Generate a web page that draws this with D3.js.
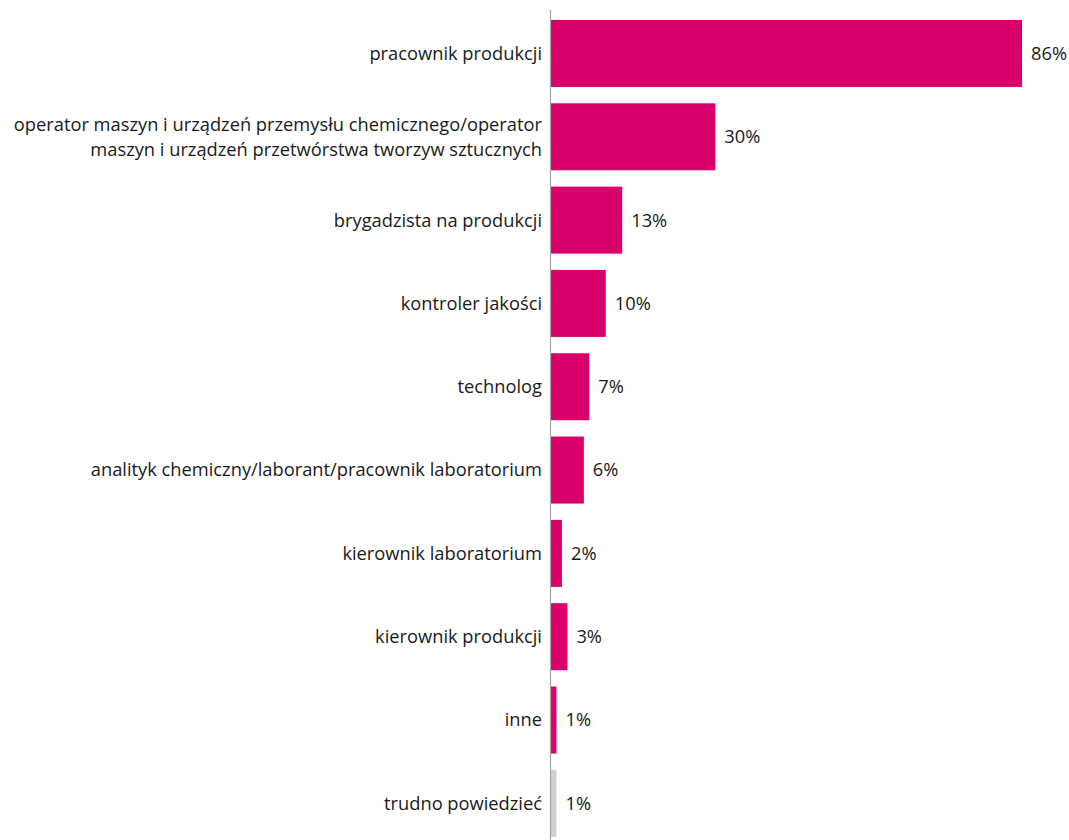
<!DOCTYPE html>
<html>
<head>
<meta charset="utf-8">
<script src="https://cdn.jsdelivr.net/npm/d3@7"></script>
<style>
  html, body { margin: 0; padding: 0; background: #ffffff; }
  svg { display: block; }
  text { font-family: "Open Sans", Lato, sans-serif; fill: #1a1a1a; }
</style>
</head>
<body>
<svg id="chart" width="1069" height="840"></svg>
<script>
// Job positions (multi-line labels split with "\n")
const categories = [
  "pracownik produkcji",
  "operator maszyn i urządzeń przemysłu chemicznego/operator\nmaszyn i urządzeń przetwórstwa tworzyw sztucznych",
  "brygadzista na produkcji",
  "kontroler jakości",
  "technolog",
  "analityk chemiczny/laborant/pracownik laboratorium",
  "kierownik laboratorium",
  "kierownik produkcji",
  "inne",
  "trudno powiedzieć"
];
const values = [86, 30, 13, 10, 7, 6, 2, 3, 1, 1];
const valueLabels = ["86%", "30%", "13%", "10%", "7%", "6%", "2%", "3%", "1%", "1%"];
const barColors = ["#d9006c", "#d9006c", "#d9006c", "#d9006c", "#d9006c",
                   "#d9006c", "#d9006c", "#d9006c", "#d9006c", "#d0d0d0"];

const svg = d3.select("#chart");
const x0 = 551;
const fontSize = 18.3;

const x = d3.scaleLinear().domain([0, 86]).range([x0, 1022]);
const y = d3.scaleBand()
  .domain(categories)
  .range([11.8, 845])
  .paddingInner(0.196)
  .paddingOuter(0.098);

// Bars
svg.append("g").selectAll("rect")
  .data(values)
  .join("rect")
  .attr("x", x(0))
  .attr("y", (d, i) => y(categories[i]))
  .attr("width", d => x(d) - x(0))
  .attr("height", y.bandwidth())
  .attr("fill", (d, i) => barColors[i]);

// Vertical category axis line
svg.append("line")
  .attr("x1", x0 - 0.5).attr("x2", x0 - 0.5)
  .attr("y1", 10).attr("y2", 840)
  .attr("stroke", "#a6a6a6")
  .attr("stroke-width", 1.2);

// Category labels
const labelG = svg.append("g");
categories.forEach((c, i) => {
  const lines = c.split("\n");
  const cy = y(c) + y.bandwidth() / 2;
  const lh = 25;
  const t = labelG.append("text")
    .attr("text-anchor", "end")
    .attr("font-size", fontSize);
  lines.forEach((ln, j) => {
    t.append("tspan")
      .attr("x", x0 - 9)
      .attr("y", cy + (j - (lines.length - 1) / 2) * lh)
      .attr("dy", "0.35em")
      .text(ln);
  });
});

// Value labels
svg.append("g").selectAll("text")
  .data(values)
  .join("text")
  .attr("x", d => x(d) + 9)
  .attr("y", (d, i) => y(categories[i]) + y.bandwidth() / 2)
  .attr("dy", "0.35em")
  .attr("font-size", fontSize)
  .text((d, i) => valueLabels[i]);
</script>
</body>
</html>
